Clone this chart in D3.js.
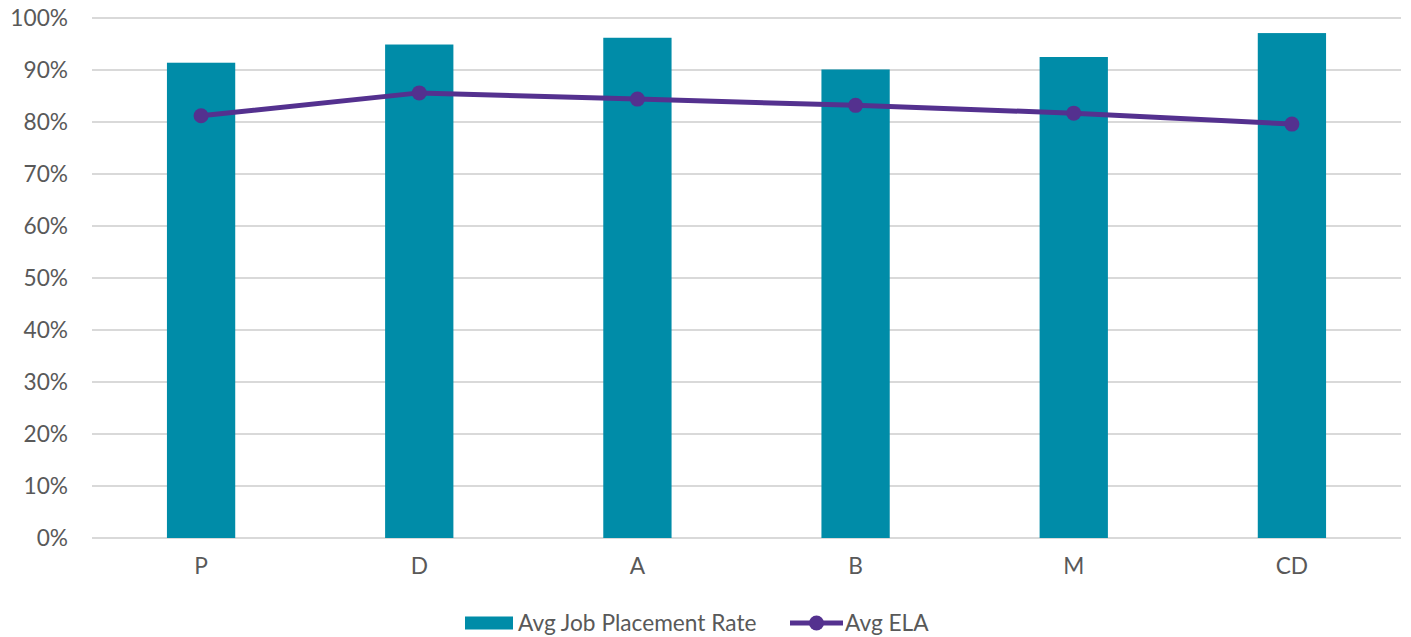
<!DOCTYPE html>
<html>
<head>
<meta charset="utf-8">
<script src="https://cdn.jsdelivr.net/npm/d3@7"></script>
<style>
  body { margin: 0; background: #fff; }
  svg { display: block; font-family: Lato, "Open Sans", sans-serif; }
</style>
</head>
<body>
<div id="chart"></div>
<script>
// data
const categories = ["P", "D", "A", "B", "M", "CD"];
const jobPlacement = [0.914, 0.949, 0.962, 0.901, 0.925, 0.971];
const avgEla = [0.812, 0.856, 0.844, 0.832, 0.817, 0.796];
const yTicks = [0, 0.1, 0.2, 0.3, 0.4, 0.5, 0.6, 0.7, 0.8, 0.9, 1.0];

const W = 1411, H = 637;
const margin = { top: 18, right: 10, bottom: 99, left: 92 };
const width = W - margin.left - margin.right;
const height = H - margin.top - margin.bottom;

const barColor = "#008ca8";
const lineColor = "#54318f";
const textColor = "#595959";
const fontSize = "22.7px";

const svg = d3.select("#chart").append("svg")
  .attr("width", W)
  .attr("height", H);

const g = svg.append("g")
  .attr("transform", `translate(${margin.left},${margin.top})`);

const x = d3.scaleBand().domain(categories).range([0, width]).paddingInner(0.687).paddingOuter(0.3435);
const xc = d3.scaleBand().domain(categories).range([0, width]);
const y = d3.scaleLinear().domain([0, 1]).range([height, 0]);

// gridlines
g.append("g")
  .selectAll("line")
  .data(yTicks)
  .join("line")
  .attr("x1", 0)
  .attr("x2", width)
  .attr("y1", d => y(d))
  .attr("y2", d => y(d))
  .attr("stroke", "#d9d9d9")
  .attr("stroke-width", 2);

// y axis
const yAxis = g.append("g")
  .call(d3.axisLeft(y).tickValues(yTicks).tickFormat(d3.format(".0%")).tickSize(0).tickPadding(24));
yAxis.select(".domain").remove();
yAxis.selectAll("text")
  .attr("fill", textColor)
  .style("font-size", fontSize)
  .style("font-family", "Lato, sans-serif");

// x axis
const xAxis = g.append("g")
  .attr("transform", `translate(0,${height})`)
  .call(d3.axisBottom(xc).tickSize(0).tickPadding(20));
xAxis.select(".domain").remove();
xAxis.selectAll("text")
  .attr("fill", textColor)
  .style("font-size", fontSize)
  .style("font-family", "Lato, sans-serif");

// bars
g.append("g")
  .selectAll("rect")
  .data(categories)
  .join("rect")
  .attr("x", d => x(d))
  .attr("width", x.bandwidth())
  .attr("y", (d, i) => y(jobPlacement[i]))
  .attr("height", (d, i) => height - y(jobPlacement[i]))
  .attr("fill", barColor);

// line
const line = d3.line()
  .x((d, i) => xc(categories[i]) + xc.bandwidth() / 2)
  .y(d => y(d));

g.append("path")
  .datum(avgEla)
  .attr("d", line)
  .attr("fill", "none")
  .attr("stroke", lineColor)
  .attr("stroke-width", 5)
  .attr("stroke-linejoin", "round");

g.append("g")
  .selectAll("circle")
  .data(avgEla)
  .join("circle")
  .attr("cx", (d, i) => xc(categories[i]) + xc.bandwidth() / 2)
  .attr("cy", d => y(d))
  .attr("r", 7.5)
  .attr("fill", lineColor);

// legend
const legend = svg.append("g").attr("transform", "translate(465,623)");
legend.append("rect")
  .attr("x", 0).attr("y", -6.5)
  .attr("width", 48).attr("height", 13)
  .attr("fill", barColor);
legend.append("text")
  .attr("x", 53).attr("y", 0)
  .attr("dy", "0.35em")
  .attr("fill", textColor)
  .style("font-size", fontSize)
  .text("Avg Job Placement Rate");
legend.append("line")
  .attr("x1", 325).attr("x2", 378)
  .attr("y1", 0).attr("y2", 0)
  .attr("stroke", lineColor)
  .attr("stroke-width", 5);
legend.append("circle")
  .attr("cx", 351.5).attr("cy", 0).attr("r", 7.5)
  .attr("fill", lineColor);
legend.append("text")
  .attr("x", 380).attr("y", 0)
  .attr("dy", "0.35em")
  .attr("fill", textColor)
  .style("font-size", fontSize)
  .text("Avg ELA");
</script>
</body>
</html>
